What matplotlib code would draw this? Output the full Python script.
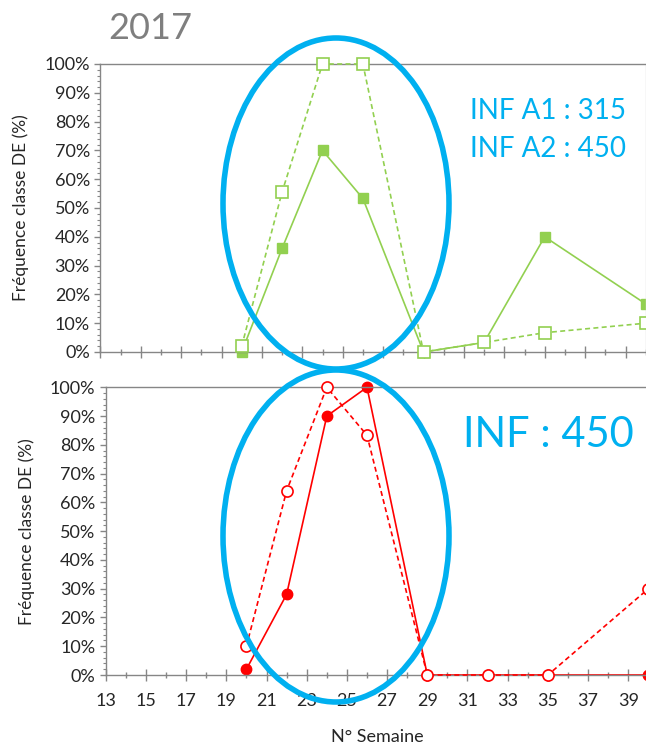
import matplotlib.pyplot as plt
import numpy as np
from matplotlib.patches import Ellipse
from matplotlib.ticker import MultipleLocator, PercentFormatter

# data
weeks = [20, 22, 24, 26, 29, 32, 35, 40]
top_filled = [0, 36, 70, 53.3, 0, 3.3, 40, 16.7]
top_hollow = [2, 55.6, 100, 100, 0, 3.3, 6.7, 10]
bot_filled = [2, 28, 90, 100, 0, 0, 0, 0]
bot_hollow = [10, 64, 100, 83.3, 0, 0, 0, 30]
xticks = np.arange(13, 40, 2)

GREEN = "#92D050"
RED = "#FF0000"
BLUE = "#00B0F0"
AXCOL = "#868686"
FONT = "Lato"

plt.rcParams['font.family'] = [FONT, 'DejaVu Sans']

W, H = 646, 747
fig = plt.figure(figsize=(W / 100, H / 100), dpi=100)


def px_axes(left, right, top, bottom):
    return fig.add_axes([left / W, 1 - bottom / H, (right - left) / W, (bottom - top) / H])


def style(ax, labels):
    ax.set_xlim(13, 40)
    ax.set_ylim(0, 100)
    ax.set_xticks(xticks)
    ax.set_xticks(np.arange(14, 41, 2), minor=True)
    ax.yaxis.set_major_locator(MultipleLocator(10))
    ax.yaxis.set_minor_locator(MultipleLocator(2))
    ax.yaxis.set_major_formatter(PercentFormatter(decimals=0))
    for s in ax.spines.values():
        s.set_color(AXCOL)
        s.set_linewidth(1.0)
    ax.spines['right'].set_color("#d9d9d9")
    ax.tick_params(axis='x', which='major', direction='inout', length=8.5, color=AXCOL,
                   width=1, labelsize=13, labelcolor="#262626", pad=9)
    ax.tick_params(axis='x', which='minor', direction='inout', length=4.5, color=AXCOL, width=1)
    ax.tick_params(axis='y', which='major', direction='out', length=4.5, color=AXCOL,
                   width=1, labelsize=13, labelcolor="#262626", pad=3)
    ax.tick_params(axis='y', which='minor', direction='out', length=2.5, color=AXCOL, width=0.8)
    if not labels:
        ax.tick_params(axis='x', labelbottom=False)
    ax.set_ylabel("Fréquence classe DE (%)", fontsize=12.5, color="#262626")


ax1 = px_axes(100.3, 645.7, 64, 352)
ax1.plot(weeks, top_hollow, color=GREEN, lw=1.2, ls=(0, (3, 2)), marker='s', ms=8,
         mfc='white', mec=GREEN, mew=1.2, clip_on=False, zorder=3)
ax1.plot(weeks, top_filled, color=GREEN, lw=1.2, marker='s', ms=7,
         mfc=GREEN, mec=GREEN, clip_on=False, zorder=2)
style(ax1, False)
ax1.yaxis.set_label_coords(-0.13, 0.5)

ax2 = px_axes(105.7, 648.4, 387.3, 675)
ax2.plot(weeks, bot_hollow, color=RED, lw=1.2, ls=(0, (3, 2)), marker='o', ms=8,
         mfc='white', mec=RED, mew=1.2, clip_on=False, zorder=3)
ax2.plot(weeks, bot_filled, color=RED, lw=1.2, marker='o', ms=7.5,
         mfc=RED, mec=RED, clip_on=False, zorder=2)
style(ax2, True)
ax2.yaxis.set_label_coords(-0.13, 0.5)
ax2.set_xlabel("N° Semaine", fontsize=13, color="#262626", labelpad=14)

# overlay for annotations in pixel coordinates
ov = fig.add_axes([0, 0, 1, 1], zorder=10)
ov.set_xlim(0, W)
ov.set_ylim(H, 0)
ov.axis('off')
ov.patch.set_alpha(0)
ov.add_patch(Ellipse((336, 203.5), 226, 331, fill=False, ec=BLUE, lw=4))
ov.add_patch(Ellipse((336, 536), 226, 332, fill=False, ec=BLUE, lw=4))
ov.text(108, 39, "2017", fontsize=26, color="#7f7f7f", va='baseline', ha='left')
ov.text(470, 119, "INF A1 : 315", fontsize=20, color=BLUE, va='baseline', ha='left')
ov.text(470, 156.7, "INF A2 : 450", fontsize=20, color=BLUE, va='baseline', ha='left')
ov.text(463, 446.7, "INF : 450", fontsize=30, color=BLUE, va='baseline', ha='left')

fig.savefig("out.png", dpi=100)
